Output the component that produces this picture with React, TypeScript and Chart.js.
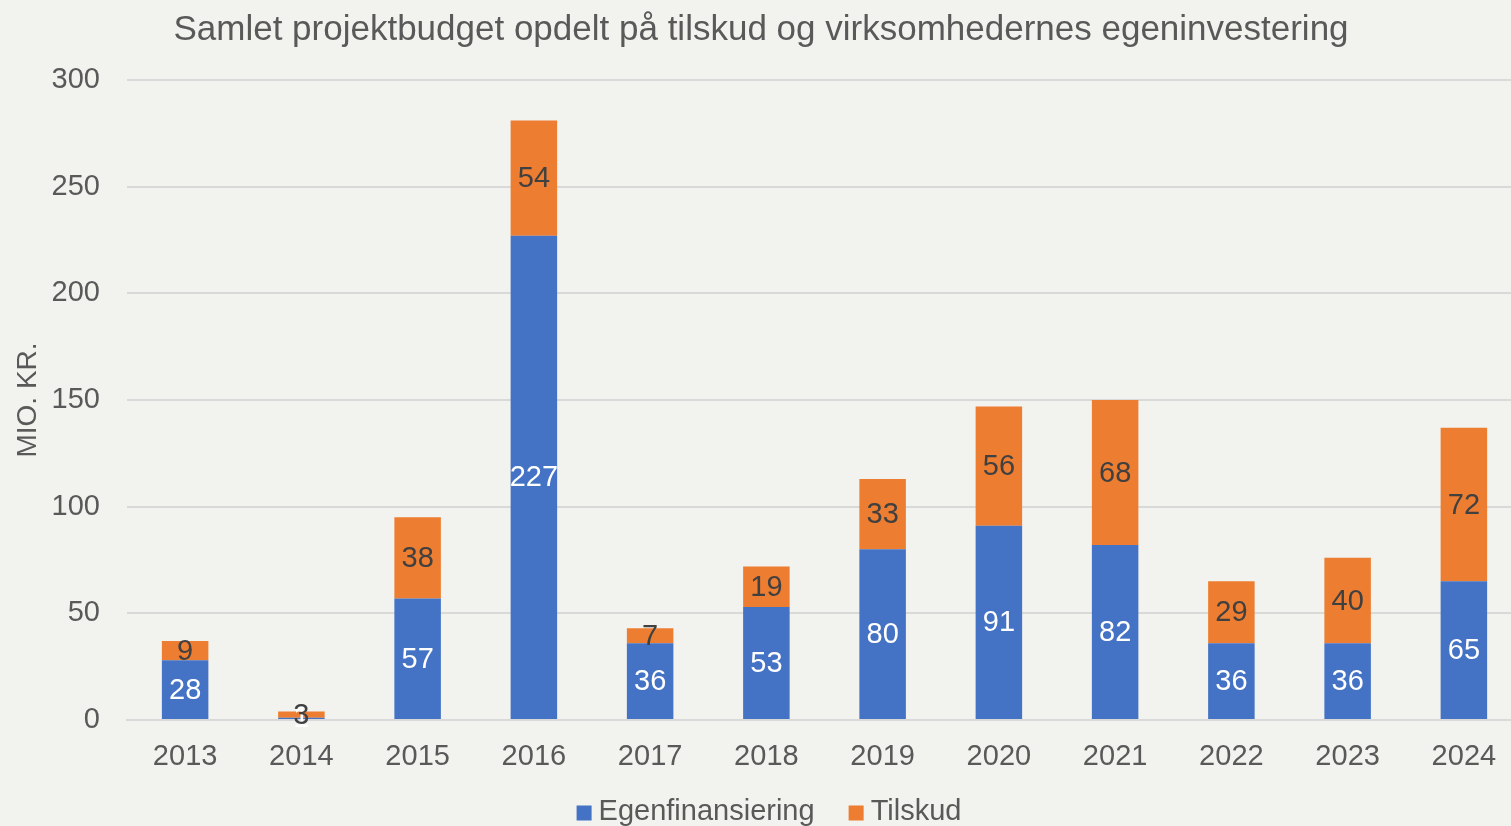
import React, { useEffect, useRef } from "react";
import { Chart, registerables } from "chart.js";

Chart.register(...registerables);

const years = ["2013","2014","2015","2016","2017","2018","2019","2020","2021","2022","2023","2024"];
const egenfinansiering = [28, 1, 57, 227, 36, 53, 80, 91, 82, 36, 36, 65];
const tilskud = [9, 3, 38, 54, 7, 19, 33, 56, 68, 29, 40, 72];
const yTicks = [0, 50, 100, 150, 200, 250, 300];

const FONT = "'Liberation Sans', Arial, sans-serif";
const TEXT = "#595959";
const BG = "#f2f2ee";

const labelPlugin = {
  id: "barLabels",
  afterDatasetsDraw(chart: any) {
    const ctx = chart.ctx;
    ctx.save();
    ctx.font = `29px ${FONT}`;
    ctx.textAlign = "center";
    ctx.textBaseline = "middle";
    chart.data.datasets.forEach((ds: any, di: number) => {
      const meta = chart.getDatasetMeta(di);
      ctx.fillStyle = di === 0 ? "#ffffff" : "#404040";
      meta.data.forEach((bar: any, i: number) => {
        const v = ds.data[i];
        const y = (bar.y + bar.base) / 2 + 1;
        ctx.fillText(String(v), bar.x, y);
      });
    });
    ctx.restore();
  },
};

const bgPlugin = {
  id: "bg",
  beforeDraw(chart: any) {
    const ctx = chart.ctx;
    ctx.save();
    ctx.fillStyle = BG;
    ctx.fillRect(0, 0, chart.width, chart.height);
    ctx.restore();
  },
};

const legendPlugin = {
  id: "customLegend",
  afterDraw(chart: any) {
    const ctx = chart.ctx;
    ctx.save();
    ctx.font = `29px ${FONT}`;
    ctx.textBaseline = "middle";
    ctx.textAlign = "left";
    const box = 15, gapText = 7, gapItem = 34;
    const items = chart.data.datasets.map((ds: any) => ({
      label: ds.label,
      color: ds.backgroundColor,
      w: ctx.measureText(ds.label).width,
    }));
    const total = items.reduce((s: number, it: any) => s + box + gapText + it.w, 0) + gapItem * (items.length - 1);
    let x = chart.width / 2 + 8 - total / 2;
    const y = chart.scales.x.bottom + 22;
    items.forEach((it: any) => {
      ctx.fillStyle = it.color;
      ctx.fillRect(x, y - box / 2 + 1, box, box);
      x += box + gapText;
      ctx.fillStyle = TEXT;
      ctx.fillText(it.label, x, y);
      x += it.w + gapItem;
    });
    ctx.restore();
  },
};

export default function App() {
  const ref = useRef<HTMLCanvasElement>(null);
  useEffect(() => {
    if (!ref.current) return;
    const chart = new Chart(ref.current, {
      type: "bar",
      data: {
        labels: years,
        datasets: [
          { label: "Egenfinansiering", data: egenfinansiering, backgroundColor: "#4472C4", barPercentage: 0.4, categoryPercentage: 1 },
          { label: "Tilskud", data: tilskud, backgroundColor: "#ED7D31", barPercentage: 0.4, categoryPercentage: 1 },
        ],
      },
      options: {
        animation: false,
        responsive: false,
        maintainAspectRatio: false,
        layout: { padding: { left: 0, right: 0, top: 0, bottom: 36 } },
        plugins: {
          title: {
            display: true,
            text: "Samlet projektbudget opdelt på tilskud og virksomhedernes egeninvestering",
            color: TEXT,
            font: { family: FONT, size: 35, weight: "normal" },
            padding: { top: 9, bottom: 29 },
          },
          legend: { display: false },
          tooltip: { enabled: false },
        },
        scales: {
          x: {
            stacked: true,
            grid: { display: false, drawTicks: false },
            border: { display: true, color: "#d9d9d9", width: 2 },
            ticks: { color: TEXT, font: { family: FONT, size: 29 }, padding: 20 },
            afterFit: (scale: any) => {
              scale.height = 70;
            },
          },
          y: {
            stacked: true,
            min: 0,
            max: 300,
            afterBuildTicks: (scale: any) => {
              scale.ticks = yTicks.map((v) => ({ value: v }));
            },
            afterFit: (scale: any) => {
              scale.width = 127;
            },
            grid: { color: "#d9d9d9", lineWidth: 2, drawTicks: false },
            border: { display: false },
            ticks: { color: TEXT, font: { family: FONT, size: 29 }, padding: 27 },
            title: {
              display: true,
              text: "MIO. KR.",
              color: TEXT,
              font: { family: FONT, size: 28 },
              padding: { top: 11, bottom: 0 },
            },
          },
        },
      },
      plugins: [bgPlugin, labelPlugin, legendPlugin],
    });
    return () => chart.destroy();
  }, []);
  return (
    <div style={{ position: "fixed", left: 0, top: 0, width: 1511, height: 826, overflow: "hidden", background: BG }}>
      <canvas ref={ref} width={1522} height={826} style={{ display: "block", width: 1522, height: 826 }} />
    </div>
  );
}
